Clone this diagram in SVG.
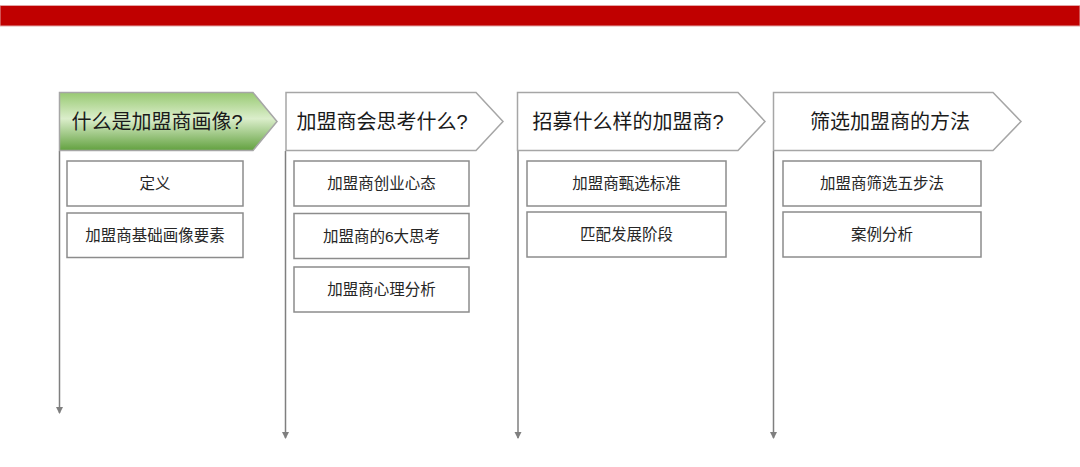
<svg xmlns="http://www.w3.org/2000/svg" width="1080" height="467" viewBox="0 0 1080 467">
<defs>
<linearGradient id="g" x1="0" y1="0" x2="0" y2="1">
<stop offset="0" stop-color="#98c972"/>
<stop offset="0.45" stop-color="#dbeecb"/>
<stop offset="1" stop-color="#62a13f"/>
</linearGradient>
<marker id="ah" markerWidth="8" markerHeight="8" refX="6" refY="4" orient="auto" markerUnits="userSpaceOnUse">
<path d="M0,0.5 L7,4 L0,7.5 Z" fill="#7f7f7f"/>
</marker>
<style>
.hd{fill:#fff;stroke:#a6a6a6;stroke-width:1.5}
.sb{fill:#fff;stroke:#8c8c8c;stroke-width:1.5}
.ht{font-family:"Liberation Sans","Noto Sans CJK SC",sans-serif;font-size:20px;fill:#1a1a1a;text-anchor:middle}
.st{font-family:"Liberation Sans","Noto Sans CJK SC",sans-serif;font-size:15.5px;fill:#262626;text-anchor:middle}
.ln{stroke:#7f7f7f;stroke-width:1.5;fill:none;marker-end:url(#ah)}
</style>
</defs>
<rect x="0" y="5.5" width="1080" height="20.5" fill="#c00000" stroke="#e3a5a5" stroke-width="1"/>
<g id="connectors">
<line class="ln" x1="59.5" y1="151" x2="59.5" y2="413"/>
<line class="ln" x1="285.5" y1="151" x2="285.5" y2="438"/>
<line class="ln" x1="518" y1="151" x2="518" y2="438"/>
<line class="ln" x1="773.5" y1="151" x2="773.5" y2="438"/>
</g>
<g id="h1">
<path class="hd" style="fill:url(#g)" d="M59.5,92.5 H253 L277,121.5 L253,150.5 H59.5 Z"/>
<text class="ht" x="157" y="129">什么是加盟商画像?</text>
</g>
<g id="h2">
<path class="hd" d="M286,92.5 H476 L503,121.5 L476,150.5 H286 Z"/>
<text class="ht" x="382" y="129">加盟商会思考什么?</text>
</g>
<g id="h3">
<path class="hd" d="M517.5,92.5 H738 L765,121.5 L738,150.5 H517.5 Z"/>
<text class="ht" x="628" y="129">招募什么样的加盟商?</text>
</g>
<g id="h4">
<path class="hd" d="M773.5,92.5 H993 L1021,121.5 L993,150.5 H773.5 Z"/>
<text class="ht" x="890" y="129">筛选加盟商的方法</text>
</g>
<g id="b1a"><rect class="sb" x="67" y="161" width="176" height="45"/><text class="st" x="155" y="189">定义</text></g>
<g id="b1b"><rect class="sb" x="67" y="213" width="176" height="44.5"/><text class="st" x="155" y="241">加盟商基础画像要素</text></g>
<g id="b2a"><rect class="sb" x="294" y="161" width="175" height="45"/><text class="st" x="381.5" y="189">加盟商创业心态</text></g>
<g id="b2b"><rect class="sb" x="294" y="213.5" width="175" height="45"/><text class="st" x="381.5" y="242">加盟商的6大思考</text></g>
<g id="b2c"><rect class="sb" x="294" y="267" width="175" height="45"/><text class="st" x="381.5" y="295">加盟商心理分析</text></g>
<g id="b3a"><rect class="sb" x="527" y="161" width="199" height="45"/><text class="st" x="626.5" y="189">加盟商甄选标准</text></g>
<g id="b3b"><rect class="sb" x="527" y="212" width="199" height="45"/><text class="st" x="626.5" y="240">匹配发展阶段</text></g>
<g id="b4a"><rect class="sb" x="783" y="161" width="198" height="45"/><text class="st" x="882" y="189">加盟商筛选五步法</text></g>
<g id="b4b"><rect class="sb" x="783" y="212" width="198" height="45"/><text class="st" x="882" y="240">案例分析</text></g>
</svg>
